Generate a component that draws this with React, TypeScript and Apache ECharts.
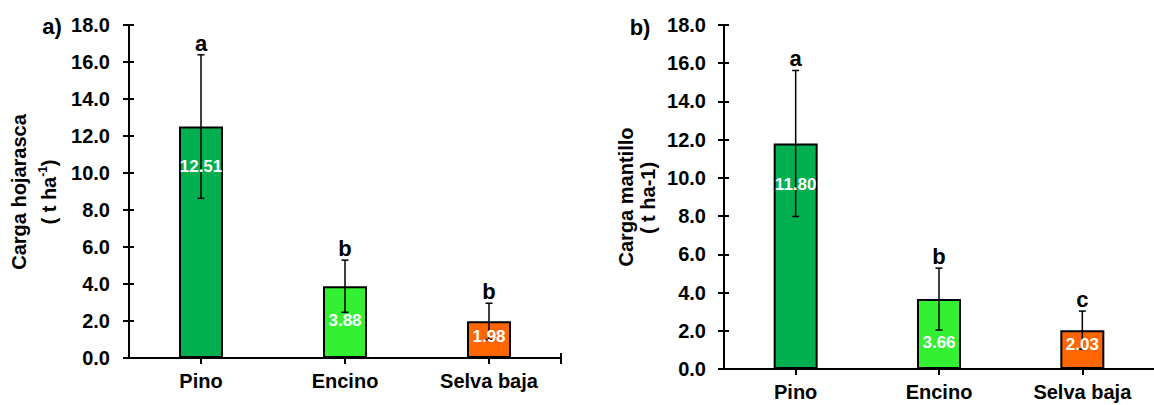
import React, { useEffect, useRef } from 'react';
import * as echarts from 'echarts';

// ---------- data ----------
const categories = ['Pino', 'Encino', 'Selva baja'];

const hojarascaMeans = [12.51, 3.88, 1.98];
const hojarascaErrors = [3.88, 1.41, 0.98];
const hojarascaLetters = ['a', 'b', 'b'];

const mantilloMeans = [11.8, 3.66, 2.03];
const mantilloErrors = [3.82, 1.62, 1.0];
const mantilloLetters = ['a', 'b', 'c'];

const yMin = 0;
const yMax = 18;
const yInterval = 2;

// ---------- styles ----------
const barColors = ['#00B050', '#33F033', '#FF6600'];
const FONT = '"Liberation Sans", Arial, sans-serif';
// pixel offset of the white value label below the bar top
const valueLabelOffsetsA = [40, 34, 15];
const valueLabelOffsetsB = [41, 43, 14];

function makeErrorRender(letters: string[], offsets: number[]) {
  return (params: any, api: any) => {
    const i = api.value(0);
    const mean = api.value(1);
    const hi = api.value(2);
    const lo = api.value(3);
    const pTop = api.coord([i, hi]);
    const pBot = api.coord([i, lo]);
    const pMean = api.coord([i, mean]);
    const x = pTop[0];
    const cap = 3.5;
    const ls = { stroke: '#000', lineWidth: 1.5 };
    return {
      type: 'group',
      children: [
        { type: 'line', shape: { x1: x, y1: pTop[1], x2: x, y2: pBot[1] }, style: ls },
        { type: 'line', shape: { x1: x - cap, y1: pTop[1], x2: x + cap, y2: pTop[1] }, style: ls },
        { type: 'line', shape: { x1: x - cap, y1: pBot[1], x2: x + cap, y2: pBot[1] }, style: ls },
        {
          type: 'text',
          x: x,
          y: pTop[1] - 0.5,
          style: {
            text: letters[i],
            align: 'center',
            verticalAlign: 'bottom',
            fill: '#000',
            font: `bold 22px ${FONT}`,
          },
        },
        {
          type: 'text',
          x: x,
          y: pMean[1] + offsets[i],
          style: {
            text: mean.toFixed(2),
            align: 'center',
            verticalAlign: 'middle',
            fill: '#fff',
            font: `bold 17px ${FONT}`,
          },
        },
      ],
    };
  };
}

function xAxes(gridIndex: number) {
  return [
    {
      type: 'category',
      gridIndex,
      data: categories,
      position: 'bottom',
      axisLine: { show: true, onZero: false, lineStyle: { color: '#000', width: 2 } },
      axisTick: { show: true, alignWithLabel: true, length: 6, lineStyle: { color: '#000', width: 2 } },
      axisLabel: { margin: 13, color: '#000', fontFamily: FONT, fontWeight: 'bold', fontSize: 20 },
      splitLine: { show: false },
    },
    {
      type: 'category',
      gridIndex,
      data: categories,
      position: 'bottom',
      axisLine: { show: false, onZero: false },
      axisTick: { show: true, inside: true, alignWithLabel: true, length: 5, lineStyle: { color: '#000', width: 2 } },
      axisLabel: { show: false },
      splitLine: { show: false },
    },
  ];
}

function yAxes(gridIndex: number, margin: number) {
  return [
    {
      type: 'value',
      gridIndex,
      min: yMin,
      max: yMax,
      interval: yInterval,
      position: 'left',
      axisLine: { show: true, onZero: false, lineStyle: { color: '#000', width: 2 } },
      axisTick: { show: true, length: 6, lineStyle: { color: '#000', width: 2 } },
      axisLabel: {
        margin,
        color: '#000',
        fontFamily: FONT,
        fontWeight: 'bold',
        fontSize: 20,
        formatter: (v: number) => v.toFixed(1),
      },
      splitLine: { show: false },
    },
    {
      type: 'value',
      gridIndex,
      min: yMin,
      max: yMax,
      interval: yInterval,
      position: 'left',
      axisLine: { show: false, onZero: false },
      axisTick: { show: true, inside: true, length: 5, lineStyle: { color: '#000', width: 2 } },
      axisLabel: { show: false },
      splitLine: { show: false },
    },
  ];
}

function barSeries(means: number[], axisIdx: number) {
  return {
    type: 'bar',
    xAxisIndex: axisIdx,
    yAxisIndex: axisIdx,
    barWidth: 44,
    data: means.map((v, i) => ({ value: v, itemStyle: { color: barColors[i] } })),
    itemStyle: { borderColor: '#000', borderWidth: 2 },
    z: 3,
  };
}

function errorSeries(means: number[], errs: number[], letters: string[], offsets: number[], axisIdx: number) {
  return {
    type: 'custom',
    xAxisIndex: axisIdx,
    yAxisIndex: axisIdx,
    renderItem: makeErrorRender(letters, offsets),
    encode: { x: 0, y: [2, 3] },
    data: means.map((m, i) => [i, m, m + errs[i], m - errs[i]]),
    z: 4,
  };
}

export default function App() {
  const ref = useRef<HTMLDivElement>(null);
  useEffect(() => {
    document.body.style.margin = '0';
    if (!ref.current) return;
    const chart = echarts.init(ref.current, null, { renderer: 'svg' });
    const titleFont = `bold 20px ${FONT}`;
    chart.setOption({
      animation: false,
      backgroundColor: '#fff',
      grid: [
        { left: 129, top: 25, width: 432, height: 333 },
        { left: 724, top: 25, width: 434, height: 344 },
      ],
      xAxis: [...xAxes(0), ...xAxes(1)],
      yAxis: [...yAxes(0, 19), ...yAxes(1, 18)],
      series: [
        barSeries(hojarascaMeans, 0),
        errorSeries(hojarascaMeans, hojarascaErrors, hojarascaLetters, valueLabelOffsetsA, 0),
        barSeries(mantilloMeans, 2),
        errorSeries(mantilloMeans, mantilloErrors, mantilloLetters, valueLabelOffsetsB, 2),
      ],
      graphic: [
        { type: 'line', shape: { x1: 561, y1: 353, x2: 561, y2: 364 }, style: { stroke: '#000', lineWidth: 2 } },
        { type: 'text', x: 52, y: 26, style: { text: 'a)', align: 'center', verticalAlign: 'middle', font: `bold 22px ${FONT}`, fill: '#000' } },
        { type: 'text', x: 640, y: 27, style: { text: 'b)', align: 'center', verticalAlign: 'middle', font: `bold 22px ${FONT}`, fill: '#000' } },
        { type: 'text', x: 19, y: 192, rotation: Math.PI / 2, style: { text: 'Carga hojarasca', align: 'center', verticalAlign: 'middle', font: titleFont, fill: '#000' } },
        {
          type: 'text',
          x: 49,
          y: 192,
          rotation: Math.PI / 2,
          style: {
            text: '{n|( t ha}{s|-1}{n|)}',
            align: 'center',
            verticalAlign: 'middle',
            fill: '#000',
            rich: {
              n: { fontFamily: FONT, fontWeight: 'bold', fontSize: 20, fill: '#000', lineHeight: 24 },
              s: { fontFamily: FONT, fontWeight: 'bold', fontSize: 12, fill: '#000', verticalAlign: 'top', lineHeight: 24 },
            },
          },
        },
        { type: 'text', x: 626, y: 197, rotation: Math.PI / 2, style: { text: 'Carga mantillo', align: 'center', verticalAlign: 'middle', font: titleFont, fill: '#000' } },
        { type: 'text', x: 648, y: 198, rotation: Math.PI / 2, style: { text: '( t ha-1)', align: 'center', verticalAlign: 'middle', font: titleFont, fill: '#000' } },
      ],
    });
    return () => chart.dispose();
  }, []);
  return <div ref={ref} style={{ width: 1154, height: 405 }} />;
}
